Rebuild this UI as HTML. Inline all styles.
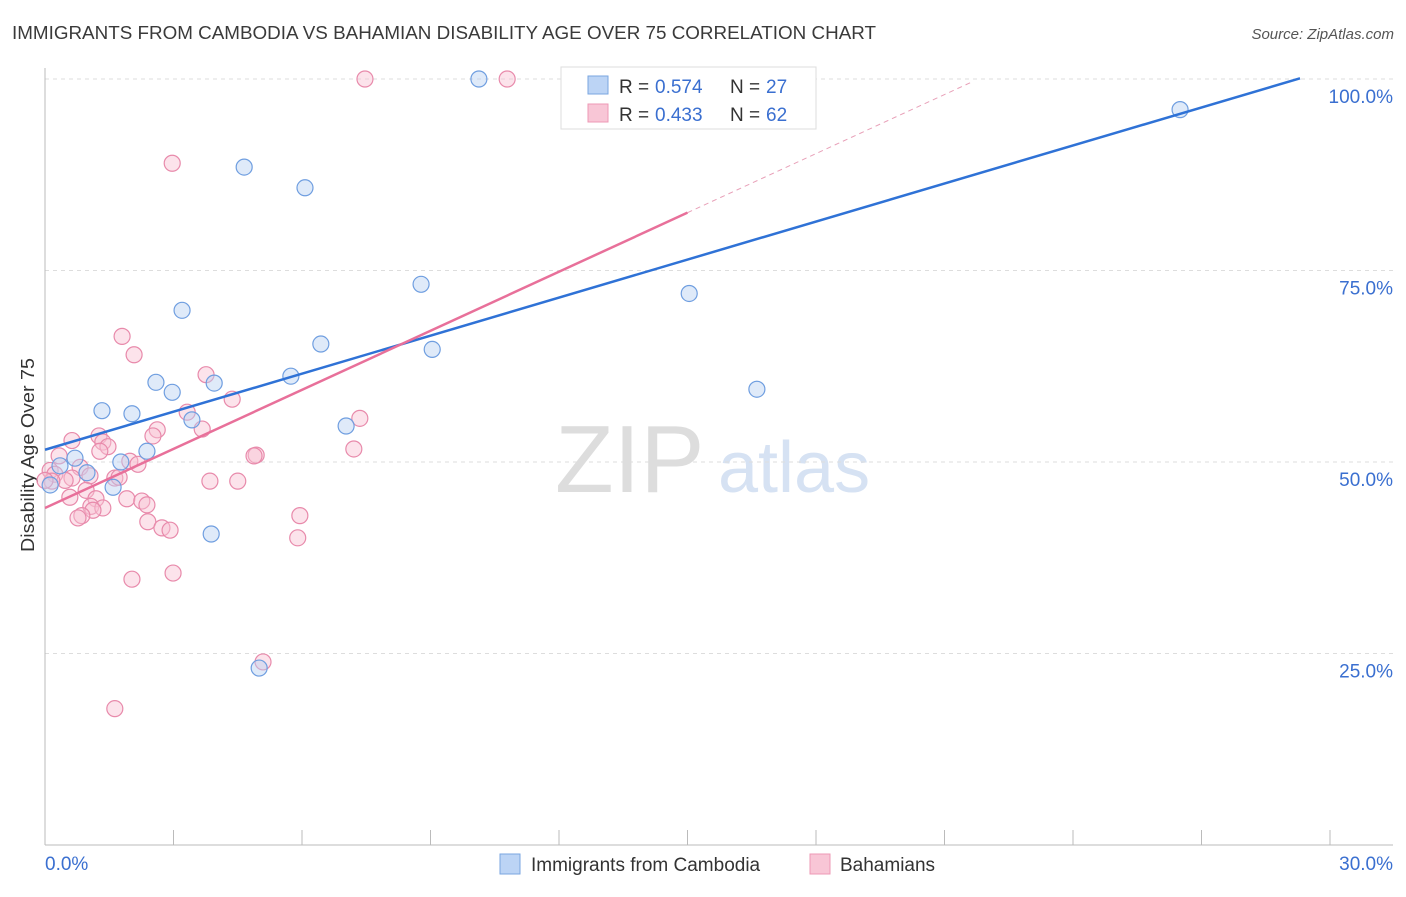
<!DOCTYPE html>
<html><head><meta charset="utf-8"><style>
body{margin:0;background:#fff;font-family:"Liberation Sans",sans-serif;}
svg text{font-family:"Liberation Sans",sans-serif;}
</style></head><body>
<svg id="c" width="1406" height="892" xmlns="http://www.w3.org/2000/svg">
<text x="12" y="39" font-size="18" fill="#3a3a3a" textLength="864" lengthAdjust="spacingAndGlyphs">IMMIGRANTS FROM CAMBODIA VS BAHAMIAN DISABILITY AGE OVER 75 CORRELATION CHART</text>
<text x="1394" y="39" font-size="15" fill="#555" text-anchor="end" font-style="italic">Source: ZipAtlas.com</text>
<text x="34" y="455" font-size="18" fill="#333" text-anchor="middle" textLength="194" lengthAdjust="spacingAndGlyphs" transform="rotate(-90 34 455)">Disability Age Over 75</text>
<text x="555" y="492" font-size="96" fill="#ddd" font-family="Liberation Serif">ZIP</text>
<text x="718" y="492" font-size="72" fill="#d6e2f3">atlas</text>
<g id="grid"></g><g id="pts"></g><g id="lines"></g>
<g>
<rect x="561" y="67" width="255" height="62" fill="#fff" stroke="#ddd"/>
<rect x="588" y="76" width="20" height="18" fill="#bcd4f5" stroke="#7aa6e0"/>
<rect x="588" y="104" width="20" height="18" fill="#f8c6d6" stroke="#ee98b5"/>
<text x="619" y="93" font-size="19" fill="#333">R =</text><text x="655" y="93" font-size="19" fill="#3a6fd0">0.574</text>
<text x="730" y="93" font-size="19" fill="#333">N =</text><text x="766" y="93" font-size="19" fill="#3a6fd0">27</text>
<text x="619" y="121" font-size="19" fill="#333">R =</text><text x="655" y="121" font-size="19" fill="#3a6fd0">0.433</text>
<text x="730" y="121" font-size="19" fill="#333">N =</text><text x="766" y="121" font-size="19" fill="#3a6fd0">62</text>
</g>
<g>
<rect x="500" y="854" width="20" height="20" fill="#bcd4f5" stroke="#7aa6e0"/>
<text x="531" y="871" font-size="19" fill="#333">Immigrants from Cambodia</text>
<rect x="810" y="854" width="20" height="20" fill="#f8c6d6" stroke="#ee98b5"/>
<text x="840" y="871" font-size="19" fill="#333">Bahamians</text>
</g>
</svg>
<script>
const yTicks=[25,50,75,100];
const yTickLabels=["25.0%","50.0%","75.0%","100.0%"];
const xLabels=["0.0%","30.0%"];
const blueX=[10.13,26.5,4.65,6.07,8.78,15.04,3.2,6.44,9.04,16.62,5.74,2.59,3.95,2.97,1.33,2.03,3.43,7.03,2.38,0.7,1.77,0.35,0.98,1.59,0.12,3.88,5.0];
const blueY=[100,96,88.5,85.8,73.2,72,69.8,65.4,64.7,59.5,61.2,60.4,60.3,59.1,56.7,56.3,55.5,54.7,51.4,50.5,50,49.5,48.6,46.7,47,40.6,23.1];
const pinkX=[7.47,10.79,2.97,1.8,2.08,3.76,4.37,3.32,7.35,3.67,2.62,2.52,1.26,0.63,1.35,1.47,1.28,7.21,4.93,4.88,0.33,1.98,2.17,0.82,0.12,0.23,1.05,1.63,0.63,0.47,0.16,0,1.73,3.85,4.5,0.96,0.58,1.19,1.91,2.26,2.38,1.07,1.35,1.12,5.95,0.86,0.77,2.4,2.73,2.92,5.9,2.99,2.03,5.09,1.63];
const pinkY=[100,100,89,66.4,64,61.4,58.2,56.5,55.7,54.3,54.2,53.4,53.4,52.8,52.6,52,51.4,51.7,50.9,50.8,50.8,50.1,49.7,49.3,48.9,48.4,48.2,47.9,47.9,47.6,47.5,47.6,48,47.5,47.5,46.3,45.4,45.2,45.2,44.9,44.4,44.2,44,43.7,43,43,42.7,42.2,41.4,41.1,40.1,35.5,34.7,23.9,17.8];
const blueFit=[51.6,1.655,0,29.3];
const pinkFit=[44,2.57,0,15,21.6];
const NS='http://www.w3.org/2000/svg';
const X=v=>45+v/30*1285, Y=v=>845-v*7.66;
function mk(t,a,p){const e=document.createElementNS(NS,t);for(const k in a)e.setAttribute(k,a[k]);p.appendChild(e);return e;}
const g=document.getElementById('grid');
yTicks.forEach((t,i)=>{
 const l=mk('line',{x1:45,x2:1393,y1:Y(t),y2:Y(t),stroke:'#ddd','stroke-dasharray':'4 4'},g);
 
 
 const tx=mk('text',{x:1393,y:Y(t)+24,'font-size':19,fill:'#3a6fd0','text-anchor':'end'},g);tx.textContent=yTickLabels[i];
 
 
});
mk('line',{x1:45,x2:45,y1:68,y2:845,stroke:'#bbb'},g);
mk('line',{x1:45,x2:1393,y1:845,y2:845,stroke:'#bbb'},g);
for(let i=1;i<=10;i++){mk('line',{x1:X(i*3),x2:X(i*3),y1:830,y2:845,stroke:'#bbb'},g);}
[[0,'start',45],[30,'end',1393]].forEach((a,i)=>{const t=mk('text',{x:a[2],y:870,'font-size':19,fill:'#3a6fd0','text-anchor':a[1]},g);t.textContent=xLabels[i];
 
 });
const p=document.getElementById('pts');
function dots(xs,ys,f,s,n){xs.forEach((x,i)=>{const c=mk('circle',{cx:X(x),cy:Y(ys[i]),r:8,fill:f,'fill-opacity':0.45,stroke:s,'stroke-width':1.2},p);
 
 });}
dots(pinkX,pinkY,'#f8c0d2','#e88aab','bahamians-point');
dots(blueX,blueY,'#b8d0f2','#6f9ee0','cambodia-point');
const L=document.getElementById('lines');
let b=mk('line',{x1:X(blueFit[2]),y1:Y(blueFit[0]+blueFit[1]*blueFit[2]),x2:X(blueFit[3]),y2:Y(blueFit[0]+blueFit[1]*blueFit[3]),stroke:'#2f72d6','stroke-width':2.5},L);


let pk=mk('line',{x1:X(pinkFit[2]),y1:Y(pinkFit[0]),x2:X(pinkFit[3]),y2:Y(pinkFit[0]+pinkFit[1]*pinkFit[3]),stroke:'#e8709a','stroke-width':2.5},L);


let pd=mk('line',{x1:X(pinkFit[3]),y1:Y(pinkFit[0]+pinkFit[1]*pinkFit[3]),x2:X(pinkFit[4]),y2:Y(pinkFit[0]+pinkFit[1]*pinkFit[4]),stroke:'#e8a0b8','stroke-width':1,'stroke-dasharray':'5 4'},L);


</script>
</body></html>
